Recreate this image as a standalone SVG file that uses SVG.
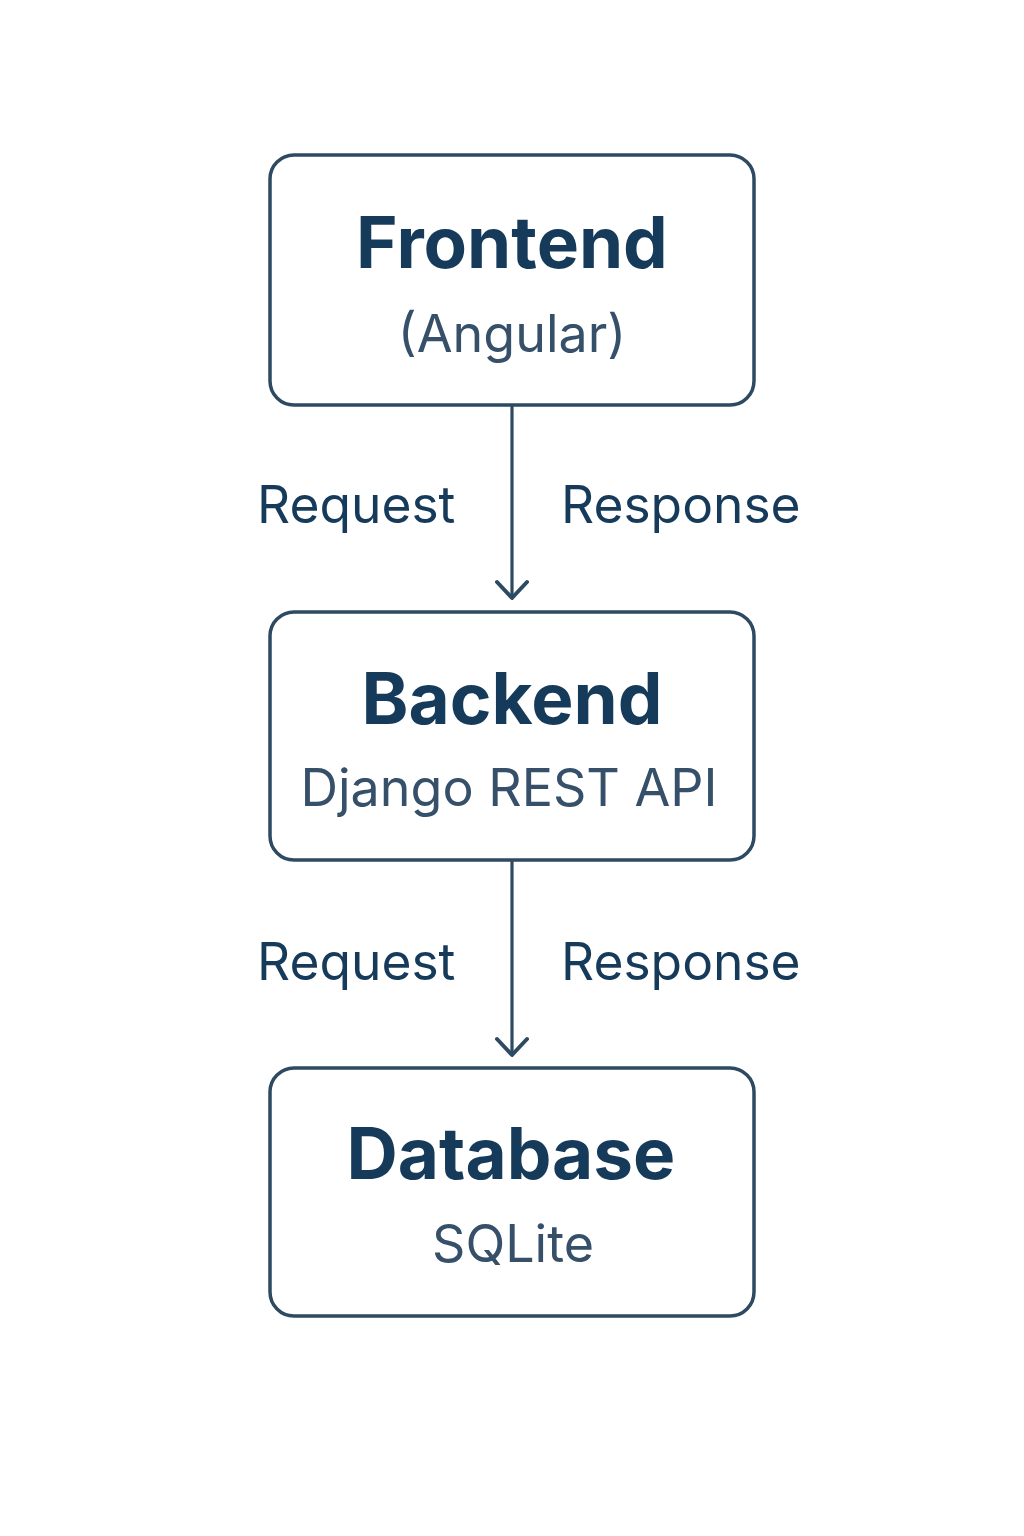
<svg xmlns="http://www.w3.org/2000/svg" width="1024" height="1536" viewBox="0 0 1024 1536">
<style>
.box{fill:#ffffff;stroke:#2e4a62;stroke-width:3.5}
.title{font-family:Inter,"Noto Sans",sans-serif;font-weight:700;font-size:71px;fill:#163a5a;text-anchor:middle}
.sub{font-family:Inter,"Noto Sans",sans-serif;font-size:52px;fill:#36506a;text-anchor:middle}
.lbl{font-family:Inter,"Noto Sans",sans-serif;font-size:51.5px;fill:#163a5a}
.line{stroke:#2e4a62;stroke-width:3.2;fill:none}
.head{stroke:#2e4a62;stroke-width:4;fill:none;stroke-linecap:round;stroke-linejoin:round}
</style>
<rect width="1024" height="1536" fill="#ffffff"/>
<g id="frontend">
<rect class="box" x="270" y="155" width="484" height="250" rx="24"/>
<text class="title" x="512" y="268">Frontend</text>
<text class="sub" x="512" y="352">(Angular)</text>
</g>
<g id="backend">
<rect class="box" x="270" y="612" width="484" height="248" rx="24"/>
<text class="title" x="512" y="724">Backend</text>
<text class="sub" x="509" y="806">Django REST API</text>
</g>
<g id="database">
<rect class="box" x="270" y="1068" width="484" height="248" rx="24"/>
<text class="title" x="511" y="1179">Database</text>
<text class="sub" x="513" y="1262">SQLite</text>
</g>
<g id="connectors">
<line class="line" x1="512" y1="405" x2="512" y2="597"/>
<polyline class="head" points="497,582 512,598 527,582"/>
<text class="lbl" x="257" y="523">Request</text>
<text class="lbl" x="561" y="523">Response</text>
<line class="line" x1="512" y1="860" x2="512" y2="1054"/>
<polyline class="head" points="497,1039 512,1055 527,1039"/>
<text class="lbl" x="257" y="980">Request</text>
<text class="lbl" x="561" y="980">Response</text>
</g>
</svg>
